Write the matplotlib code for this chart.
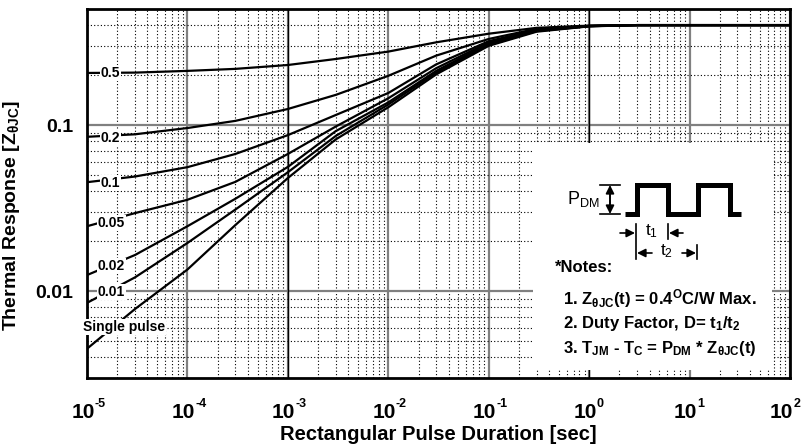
import matplotlib
matplotlib.use("Agg")
import matplotlib.pyplot as plt
from matplotlib.patches import Rectangle
from matplotlib.ticker import LogLocator, NullFormatter, FixedLocator

FONT = "Liberation Sans"
plt.rcParams["font.family"] = [FONT, "DejaVu Sans"]
plt.rcParams["font.weight"] = "bold"
plt.rcParams["mathtext.fontset"] = "custom"
plt.rcParams["mathtext.rm"] = FONT + ":bold"
plt.rcParams["mathtext.bf"] = FONT + ":bold"
plt.rcParams["mathtext.it"] = FONT + ":bold"
plt.rcParams["mathtext.sf"] = FONT + ":normal"

# pulse duration [sec]
t = [1e-5, 3e-5, 1e-4, 3e-4, 1e-3, 3e-3, 1e-2, 3e-2, 1e-1, 3e-1, 1, 3, 10, 100]

# normalised thermal response for each duty factor
z_d50 = [0.206, 0.207, 0.212, 0.218, 0.23, 0.25, 0.277, 0.315, 0.355, 0.385, 0.397, 0.4, 0.4, 0.4]
z_d20 = [0.085, 0.088, 0.096, 0.106, 0.125, 0.152, 0.198, 0.262, 0.33, 0.38, 0.396, 0.4, 0.4, 0.4]
z_d10 = [0.0453, 0.049, 0.0558, 0.067, 0.087, 0.115, 0.156, 0.232, 0.32, 0.375, 0.395, 0.4, 0.4, 0.4]
z_d05 = [0.0246, 0.0295, 0.0355, 0.0455, 0.067, 0.098, 0.145, 0.22, 0.315, 0.372, 0.395, 0.4, 0.4, 0.4]
z_d02 = [0.0125, 0.0165, 0.0246, 0.036, 0.056, 0.092, 0.137, 0.212, 0.31, 0.37, 0.394, 0.4, 0.4, 0.4]
z_d01 = [0.0085, 0.0121, 0.0195, 0.031, 0.052, 0.086, 0.133, 0.207, 0.305, 0.368, 0.394, 0.4, 0.4, 0.4]
z_single = [0.0045, 0.0078, 0.0135, 0.025, 0.048, 0.082, 0.128, 0.202, 0.30, 0.365, 0.393, 0.4, 0.4, 0.4]

curves = [z_d50, z_d20, z_d10, z_d05, z_d02, z_d01, z_single]
curve_labels = ["0.5", "0.2", "0.1", "0.05", "0.02", "0.01", "Single pulse"]
label_x = [1.7e-5, 1.7e-5, 1.7e-5, 1.75e-5, 1.75e-5, 1.75e-5, 2.35e-5]
label_y = [0.206, 0.0835, 0.0447, 0.0257, 0.0142, 0.0099, 0.0061]

xticks = [1e-5, 1e-4, 1e-3, 1e-2, 1e-1, 1e0, 1e1, 1e2]
xtick_exps = ["-5", "-4", "-3", "-2", "-1", "0", "1", "2"]
yticks = [0.01, 0.1]
ytick_labels = ["0.01", "0.1"]

fig = plt.figure(figsize=(8.03, 4.44), dpi=100)
ax = fig.add_axes([87 / 803, 66 / 444, 703 / 803, 369 / 444])
ax.set_xscale("log")
ax.set_yscale("log")
ax.set_xlim(1e-5, 1e2)
ax.set_ylim(0.003, 0.5)

# grid: gray solid decades, dotted minor lines
ax.set_axisbelow(True)
ax.xaxis.set_minor_locator(LogLocator(base=10, subs=range(2, 10), numticks=20))
ax.yaxis.set_minor_locator(LogLocator(base=10, subs=range(2, 10), numticks=20))
ax.xaxis.set_minor_formatter(NullFormatter())
ax.yaxis.set_minor_formatter(NullFormatter())
ax.grid(which="major", color="#808080", lw=1.6, ls="-")
ax.grid(which="minor", color="black", lw=0.8, ls=(0, (1, 2)))
for xv in [1e-3, 1e0]:
    ax.axvline(xv, color="black", lw=1.0, zorder=0.6)

ax.xaxis.set_major_locator(FixedLocator(xticks))
ax.set_xticklabels([])
ax.yaxis.set_major_locator(FixedLocator(yticks))
ax.set_yticklabels(ytick_labels, fontsize=14, fontweight="bold")
ax.tick_params(which="both", length=0)
ax.tick_params(axis="y", pad=10)

# decade labels: big "10" with a small raised exponent
for i, (v, e) in enumerate(zip(xticks, xtick_exps)):
    shift = -3 if i < len(xticks) - 1 else -6
    ax.annotate("10", xy=(v, 0), xycoords=("data", "axes fraction"), xytext=(shift, -24.5),
                textcoords="offset points", ha="center", va="center", fontsize=15,
                fontweight="bold", annotation_clip=False)
    ax.annotate(e, xy=(v, 0), xycoords=("data", "axes fraction"), xytext=(shift + 8.5, -19),
                textcoords="offset points", ha="left", va="center", fontsize=9,
                fontweight="bold", annotation_clip=False)

for sp in ax.spines.values():
    sp.set_linewidth(2.0)

for z in curves:
    ax.plot(t, z, color="black", lw=1.6, zorder=3)

for txt, lx, ly in zip(curve_labels, label_x, label_y):
    ax.text(lx, ly, txt, fontsize=10, fontweight="bold", ha="center", va="center",
            zorder=4, bbox=dict(facecolor="white", edgecolor="none", pad=0.6))

ax.set_xlabel("Rectangular Pulse Duration [sec]", fontsize=14.5, fontweight="bold", labelpad=30)
ax.set_ylabel(r"Thermal Response [Z$_{\mathbf{θJC}}$]", fontsize=14, fontweight="bold")
ax.yaxis.set_label_coords(-0.092, 0.44)

# notes box
ax.add_patch(Rectangle((0.634, 0.022), 0.34, 0.615, transform=ax.transAxes,
                       facecolor="white", edgecolor="none", zorder=1))


def px(x, y):
    return x / 803, 1 - y / 444


tf = fig.transFigure
wx = [625, 637, 637, 668, 668, 698, 698, 730, 730, 741]
wy = [214, 214, 185, 185, 214, 214, 185, 185, 214, 214]
fig.add_artist(plt.Line2D([x / 803 for x in wx], [1 - y / 444 for y in wy], color="black",
                          lw=3.6, solid_joinstyle="miter", solid_capstyle="butt", transform=tf))

# P_DM amplitude marker
for yy in [185, 214]:
    fig.add_artist(plt.Line2D([600 / 803, 620 / 803], [1 - yy / 444] * 2, color="black", lw=1.2, transform=tf))
fig.add_artist(plt.Line2D([610 / 803] * 2, [1 - 188 / 444, 1 - 211 / 444], color="black", lw=1.2, transform=tf))
arrow = dict(arrowstyle="-|>,head_length=0.5,head_width=0.25", color="black", lw=1.2,
             shrinkA=0, shrinkB=0)
fig.add_artist(plt.Annotation("", xy=px(610, 185), xytext=px(610, 199), xycoords=tf, textcoords=tf, arrowprops=arrow))
fig.add_artist(plt.Annotation("", xy=px(610, 214), xytext=px(610, 200), xycoords=tf, textcoords=tf, arrowprops=arrow))
fig.text(*px(583, 199), r"$\mathsf{P_{DM}}$", fontsize=13, ha="center", va="center", fontweight="normal")

# t1 / t2 markers
fig.add_artist(plt.Line2D([636 / 803] * 2, [1 - 224 / 444, 1 - 259 / 444], color="black", lw=1.2, transform=tf))
fig.add_artist(plt.Line2D([668 / 803] * 2, [1 - 224 / 444, 1 - 239 / 444], color="black", lw=1.2, transform=tf))
fig.add_artist(plt.Line2D([697 / 803] * 2, [1 - 245 / 444, 1 - 259 / 444], color="black", lw=1.2, transform=tf))
for a, b, yy in [(620, 635, 233), (683, 669, 233), (652, 637, 253), (682, 696, 253)]:
    fig.add_artist(plt.Annotation("", xy=px(b, yy), xytext=px(a, yy), xycoords=tf, textcoords=tf, arrowprops=arrow))
fig.text(*px(652, 231), r"$\mathsf{t_1}$", fontsize=12.5, ha="center", va="center", fontweight="normal")
fig.text(*px(667, 251), r"$\mathsf{t_2}$", fontsize=12.5, ha="center", va="center", fontweight="normal")

fig.text(*px(555, 267), "*Notes:", fontsize=12, fontweight="bold", ha="left", va="center")
fig.text(*px(563, 299), r"1. Z$_{θJC}$(t) = 0.4$^{O}$C/W Max.", fontsize=12, ha="left", va="center")
fig.text(*px(563, 323), r"2. Duty Factor, D= t$_1$/t$_2$", fontsize=12, ha="left", va="center")
fig.text(*px(563, 349), r"3. T$_{JM}$ - T$_C$ = P$_{DM}$ * Z$_{θJC}$(t)", fontsize=12, ha="left", va="center")

fig.savefig("out.png", dpi=100)
